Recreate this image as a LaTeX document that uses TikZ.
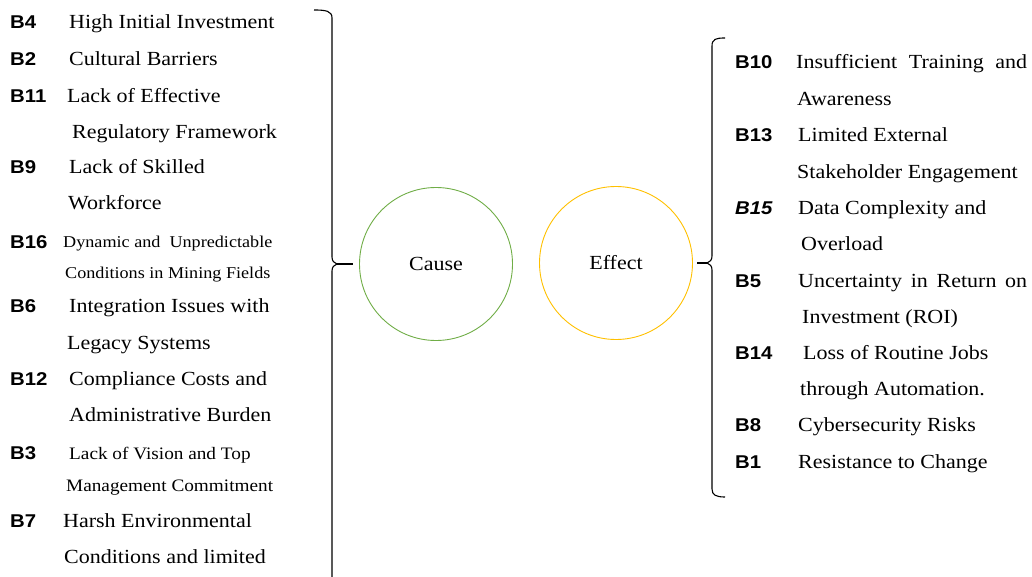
\documentclass[tikz,border=0pt]{standalone}
\usepackage{fontspec}
\setmainfont{Liberation Serif}[FakeStretch=1.1]
\newfontfamily\labfont{Liberation Sans}[FakeStretch=1.1]
\definecolor{causegreen}{RGB}{112,173,71}
\definecolor{effectorange}{RGB}{255,192,0}
\begin{document}
\begin{tikzpicture}[x=1pt,y=-1pt,
  lab/.style={anchor=base west,inner sep=0pt,font=\labfont\bfseries\fontsize{18.5}{20}\selectfont},
  labi/.style={anchor=base west,inner sep=0pt,font=\labfont\bfseries\itshape\fontsize{18.5}{20}\selectfont},
  desc/.style={anchor=base west,inner sep=0pt,font=\fontsize{20}{22}\selectfont},
  descs/.style={anchor=base west,inner sep=0pt,font=\fontsize{16.5}{18}\selectfont},
  descm/.style={anchor=base west,inner sep=0pt,font=\fontsize{17.5}{19}\selectfont},
  bracestyle/.style={line width=1.1pt,black},
  ring/.style={circle,draw,line width=0.9pt,minimum size=153pt,inner sep=0pt,font=\fontsize{20}{22}\selectfont}]
\useasboundingbox (0,0) rectangle (1032,577);

% ---------- left column ----------
\node[lab]  (lB4)  at (10,28.5) {B4};
\node[desc] (dB4)  at (69,28.5) {High Initial Investment};
\node[lab]  (lB2)  at (10,65.5) {B2};
\node[desc] (dB2)  at (69,65.5) {Cultural Barriers};
\node[lab]  (lB11) at (10,102.5) {B11};
\node[desc] (dB11) at (67,102.5) {Lack of Effective};
\node[desc] (dB11b) at (72,138.5) {Regulatory Framework};
\node[lab]  (lB9)  at (10,173.5) {B9};
\node[desc] (dB9)  at (69,173.5) {Lack of Skilled};
\node[desc] (dB9b) at (68,209.5) {Workforce};
\node[lab]  (lB16) at (10,248) {B16};
\node[descs] (dB16) at (63,247.5) {Dynamic and\ \ Unpredictable};
\node[descs] (dB16b) at (65,278.5) {Conditions in Mining Fields};
\node[lab]  (lB6)  at (10,312.5) {B6};
\node[desc] (dB6)  at (69,312.5) {Integration Issues with};
\node[desc] (dB6b) at (67,349.5) {Legacy Systems};
\node[lab]  (lB12) at (10,385.5) {B12};
\node[desc] (dB12) at (69,385.5) {Compliance Costs and};
\node[desc] (dB12b) at (69,421.5) {Administrative Burden};
\node[lab]  (lB3)  at (10,459) {B3};
\node[descm] (dB3) at (69,459) {Lack of Vision and Top};
\node[descm] (dB3b) at (66,491) {Management Commitment};
\node[lab]  (lB7)  at (10,527.5) {B7};
\node[desc] (dB7)  at (63,527.5) {Harsh Environmental};
\node[desc] (dB7b) at (64,563.5) {Conditions and limited};

% ---------- right column ----------
\node[lab]  (lB10) at (735,68.5) {B10};
\node[desc] (dB10) at (796,68.5) {\makebox[231pt][s]{Insufficient Training and}};
\node[desc] (dB10b) at (797,105.5) {Awareness};
\node[lab]  (lB13) at (735,141.5) {B13};
\node[desc] (dB13) at (798,141.5) {Limited External};
\node[desc] (dB13b) at (797,178.5) {Stakeholder Engagement};
\node[labi] (lB15) at (735,214.5) {B15};
\node[desc] (dB15) at (798,214.5) {Data Complexity and};
\node[desc] (dB15b) at (801,250.5) {Overload};
\node[lab]  (lB5)  at (735,287.5) {B5};
\node[desc] (dB5)  at (798,287.5) {\makebox[229pt][s]{Uncertainty in Return on}};
\node[desc] (dB5b) at (802,323.5) {Investment (ROI)};
\node[lab]  (lB14) at (735,359.5) {B14};
\node[desc] (dB14) at (803,359.5) {Loss of Routine Jobs};
\node[desc] (dB14b) at (800,395.5) {through Automation.};
\node[lab]  (lB8)  at (735,431.5) {B8};
\node[desc] (dB8)  at (798,431.5) {Cybersecurity Risks};
\node[lab]  (lB1)  at (735,468.5) {B1};
\node[desc] (dB1)  at (798,468.5) {Resistance to Change};

% ---------- circles ----------
\node[ring,draw=causegreen] (cause) at (436,264) {Cause};
\node[ring,draw=effectorange] (effect) at (616,263) {Effect};

% ---------- braces ----------
\coordinate (ltip) at (337,264);
\coordinate (lend) at (353,264);
\draw[bracestyle] (314,10) .. controls (326,10) and (332,11) .. (332,18)
  -- (332,257) .. controls (332,261) and (334,263) .. (ltip)
  .. controls (334,265) and (332,267) .. (332,271) -- (332,580);
\draw[line width=1.6pt] (ltip) -- (lend);

\coordinate (rtip) at (707,263);
\coordinate (rend) at (697,263);
\draw[bracestyle] (725,38) .. controls (716,38) and (712,39) .. (712,46)
  -- (712,256) .. controls (712,260) and (710,262) .. (rtip)
  .. controls (710,264) and (712,266) .. (712,270)
  -- (712,489) .. controls (712,495) and (716,497) .. (725,497);
\draw[line width=1.3pt] (rtip) -- (rend);
\end{tikzpicture}
\end{document}
